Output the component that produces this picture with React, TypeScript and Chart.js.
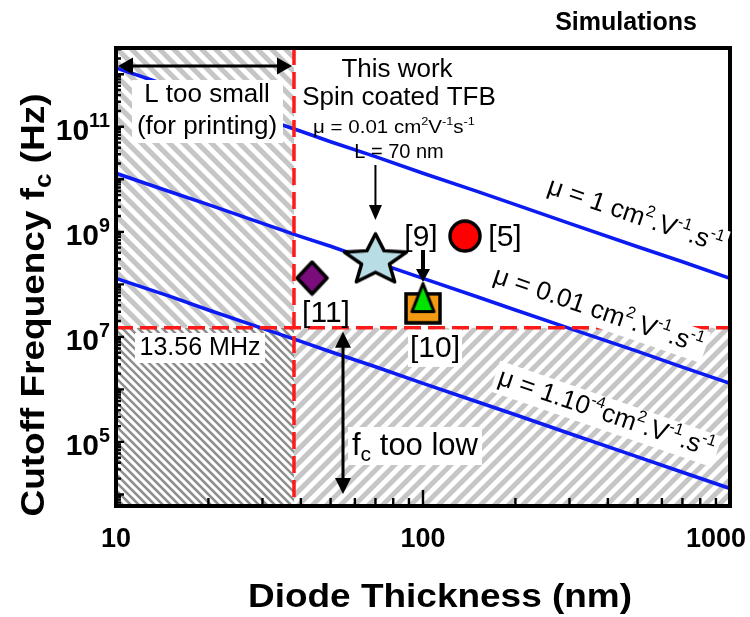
import React, { useEffect, useRef } from "react";
import { Chart, registerables } from "chart.js";
Chart.register(...registerables);

// ---- data ----
const thicknessNm = [10, 15, 20, 30, 40, 50, 70, 100, 150, 200, 300, 500, 700, 1000];
const fcMu1 = [1.32e12, 5.9e11, 3.25e11, 1.45e11, 8.2e10, 5.2e10, 2.7e10, 1.3e10, 5.9e9, 3.3e9, 1.45e9, 5.2e8, 2.7e8, 1.3e8];
const fcMu0p01 = [1.3e10, 5.8e9, 3.3e9, 1.45e9, 8.1e8, 5.3e8, 2.65e8, 1.3e8, 5.8e7, 3.25e7, 1.45e7, 5.3e6, 2.65e6, 1.3e6];
const fcMu1e4 = [1.3e8, 5.9e7, 3.25e7, 1.45e7, 8.2e6, 5.2e6, 2.7e6, 1.3e6, 5.8e5, 3.3e5, 1.45e5, 5.2e4, 2.65e4, 1.3e4];

const refLabels = ["This work", "[5]", "[11]", "[10]", "[9]"];
const refThicknessNm = [70, 137, 43.5, 100, 100];
const refFcHz = [3.2e8, 8.3e8, 1.32e8, 3.5e7, 5.6e7];

const thicknessLimitNm = 38;
const fcLimitHz = 1.5e7;

const xTickValues = [10, 100, 1000];
const yTickExponents = [5, 7, 9, 11];
const xMin = 10;
const xMax = 1000;
const yMin = Math.pow(10, 3.78);
const yMax = Math.pow(10, 12.5);

const FONT = '"Liberation Sans", Arial, Helvetica, sans-serif';

type Seg = { t: string; sup?: boolean; sub?: boolean };

function makeCanvas(w: number, h: number, draw: (g: CanvasRenderingContext2D) => void) {
  const c = document.createElement("canvas");
  c.width = w;
  c.height = h;
  const g = c.getContext("2d")!;
  draw(g);
  return c;
}

function starMark(w: number, h: number, fill: string) {
  return makeCanvas(w, h, (g) => {
    const inset = 2.5;
    const sx = (w - 2 * inset) / (2 * Math.sin((72 * Math.PI) / 180));
    const sy = (h - 2 * inset) / (1 + Math.cos((36 * Math.PI) / 180));
    g.beginPath();
    for (let i = 0; i < 10; i++) {
      const a = -Math.PI / 2 + (i * Math.PI) / 5;
      const r = i % 2 === 0 ? 1 : 0.45;
      const px = w / 2 + Math.cos(a) * r * sx;
      const py = inset + (1 + Math.sin(a) * r) * sy;
      if (i === 0) g.moveTo(px, py);
      else g.lineTo(px, py);
    }
    g.closePath();
    g.fillStyle = fill;
    g.fill();
    g.lineJoin = "round";
    g.lineWidth = 3.5;
    g.strokeStyle = "#000";
    g.stroke();
  });
}

function circleMark(d: number, fill: string) {
  return makeCanvas(d, d, (g) => {
    g.beginPath();
    g.arc(d / 2, d / 2, d / 2 - 2, 0, Math.PI * 2);
    g.fillStyle = fill;
    g.fill();
    g.lineWidth = 3.5;
    g.strokeStyle = "#000";
    g.stroke();
  });
}

function diamondMark(w: number, h: number, fill: string) {
  return makeCanvas(w, h, (g) => {
    const i = 2.5;
    g.beginPath();
    g.moveTo(w / 2, i);
    g.lineTo(w - i, h / 2);
    g.lineTo(w / 2, h - i);
    g.lineTo(i, h / 2);
    g.closePath();
    g.fillStyle = fill;
    g.fill();
    g.lineJoin = "round";
    g.lineWidth = 3.5;
    g.strokeStyle = "#000";
    g.stroke();
  });
}

function rectMark(w: number, h: number, fill: string) {
  return makeCanvas(w, h, (g) => {
    g.fillStyle = fill;
    g.fillRect(2, 2, w - 4, h - 4);
    g.lineWidth = 3.5;
    g.strokeStyle = "#000";
    g.strokeRect(2, 2, w - 4, h - 4);
  });
}

function triangleMark(w: number, h: number, fill: string) {
  return makeCanvas(w, h, (g) => {
    const i = 2.5;
    g.beginPath();
    g.moveTo(w / 2, i);
    g.lineTo(w - i, h - i);
    g.lineTo(i, h - i);
    g.closePath();
    g.fillStyle = fill;
    g.fill();
    g.lineJoin = "round";
    g.lineWidth = 3;
    g.strokeStyle = "#000";
    g.stroke();
  });
}

function drawRich(
  ctx: CanvasRenderingContext2D,
  segs: Seg[],
  x: number,
  y: number,
  o: { size: number; weight?: string; align?: string; sx?: number; rot?: number; box?: boolean; pad?: number; supScale?: number }
) {
  const size = o.size;
  const weight = o.weight || "normal";
  const sx = o.sx || 1;
  const supScale = o.supScale || 0.62;
  ctx.save();
  ctx.translate(x, y);
  if (o.rot) ctx.rotate(o.rot);
  ctx.scale(sx, 1);
  const fontFor = (s: Seg) => `${weight} ${s.sup || s.sub ? size * supScale : size}px ${FONT}`;
  const widths = segs.map((s) => {
    ctx.font = fontFor(s);
    return ctx.measureText(s.t).width;
  });
  const total = widths.reduce((a, b) => a + b, 0);
  const start = o.align === "left" ? 0 : o.align === "right" ? -total : -total / 2;
  if (o.box) {
    const pad = o.pad ?? 4;
    ctx.fillStyle = "#fff";
    ctx.fillRect(start - pad, -size * 0.62, total + 2 * pad, size * 1.24);
  }
  ctx.fillStyle = "#000";
  ctx.textBaseline = "middle";
  ctx.textAlign = "left";
  let cx = start;
  segs.forEach((s, i) => {
    ctx.font = fontFor(s);
    const dy = s.sup ? -size * 0.33 : s.sub ? size * 0.3 : 0;
    ctx.fillText(s.t, cx, dy);
    cx += widths[i];
  });
  ctx.restore();
}

function hatch(ctx: CanvasRenderingContext2D, x0: number, y0: number, x1: number, y1: number, period: number, lw: number, color: string, back: boolean) {
  ctx.save();
  ctx.beginPath();
  ctx.rect(x0, y0, x1 - x0, y1 - y0);
  ctx.clip();
  ctx.strokeStyle = color;
  ctx.lineWidth = lw;
  const h = y1 - y0;
  for (let x = x0 - h - period; x < x1 + h + period; x += period) {
    ctx.beginPath();
    if (back) {
      ctx.moveTo(x, y0);
      ctx.lineTo(x + h, y1);
    } else {
      ctx.moveTo(x, y1);
      ctx.lineTo(x + h, y0);
    }
    ctx.stroke();
  }
  ctx.restore();
}

function arrow(ctx: CanvasRenderingContext2D, x1: number, y1: number, x2: number, y2: number, lw: number, hl: number, hw: number, both: boolean) {
  const ang = Math.atan2(y2 - y1, x2 - x1);
  const head = (x: number, y: number, a: number) => {
    ctx.beginPath();
    ctx.moveTo(x, y);
    ctx.lineTo(x - hl * Math.cos(a) + (hw / 2) * Math.sin(a), y - hl * Math.sin(a) - (hw / 2) * Math.cos(a));
    ctx.lineTo(x - hl * Math.cos(a) - (hw / 2) * Math.sin(a), y - hl * Math.sin(a) + (hw / 2) * Math.cos(a));
    ctx.closePath();
    ctx.fill();
  };
  ctx.save();
  ctx.strokeStyle = "#000";
  ctx.fillStyle = "#000";
  ctx.lineWidth = lw;
  ctx.beginPath();
  const sx = both ? x1 + (hl - 2) * Math.cos(ang) : x1;
  const sy = both ? y1 + (hl - 2) * Math.sin(ang) : y1;
  ctx.moveTo(sx, sy);
  ctx.lineTo(x2 - (hl - 2) * Math.cos(ang), y2 - (hl - 2) * Math.sin(ang));
  ctx.stroke();
  head(x2, y2, ang);
  if (both) head(x1, y1, ang + Math.PI);
  ctx.restore();
}

const overlayPlugin = {
  id: "overlay",
  beforeDatasetsDraw(chart: any) {
    const ctx: CanvasRenderingContext2D = chart.ctx;
    const { left, right, top, bottom } = chart.chartArea;
    const xv = chart.scales.x.getPixelForValue(thicknessLimitNm);
    const yh = chart.scales.y.getPixelForValue(fcLimitHz);
    hatch(ctx, left, top, xv, yh, 14, 5, "#c6c6c6", true);
    hatch(ctx, left, yh, xv, bottom, 8, 2.6, "#8e8e8e", true);
    hatch(ctx, xv, yh, right, bottom, 14, 5, "#c6c6c6", false);
  },
  afterDatasetsDraw(chart: any) {
    const ctx: CanvasRenderingContext2D = chart.ctx;
    const xs = chart.scales.x;
    const ys = chart.scales.y;
    const { left, right, top, bottom } = chart.chartArea;
    const xv = xs.getPixelForValue(thicknessLimitNm);
    const yh = ys.getPixelForValue(fcLimitHz);

    // red dashed limits
    ctx.save();
    ctx.strokeStyle = "#ff1a1a";
    ctx.lineWidth = 3.5;
    ctx.setLineDash([17, 7]);
    ctx.beginPath();
    ctx.moveTo(xv, top);
    ctx.lineTo(xv, bottom);
    ctx.moveTo(left, yh);
    ctx.lineTo(right, yh);
    ctx.stroke();
    ctx.restore();

    // frame
    ctx.save();
    ctx.strokeStyle = "#000";
    ctx.lineWidth = 4;
    ctx.strokeRect(left, top, right - left, bottom - top);
    // ticks
    ctx.lineWidth = 2.4;
    ctx.beginPath();
    for (let d = 1; d <= 3; d++) {
      for (let m = 1; m <= 9; m++) {
        const v = m * Math.pow(10, d);
        if (v > xMax) break;
        const px = xs.getPixelForValue(v);
        const len = m === 1 ? 16 : 8;
        ctx.moveTo(px, bottom);
        ctx.lineTo(px, bottom - len);
      }
    }
    for (let d = 3; d <= 12; d++) {
      for (let m = 1; m <= 9; m++) {
        const v = m * Math.pow(10, d);
        if (v < yMin || v > yMax) continue;
        const py = ys.getPixelForValue(v);
        const len = m === 1 ? 8 : 5;
        ctx.moveTo(left, py);
        ctx.lineTo(left + len, py);
      }
    }
    ctx.stroke();
    ctx.restore();

    // tick labels
    yTickExponents.forEach((e) => {
      const py = ys.getPixelForValue(Math.pow(10, e));
      drawRich(ctx, [{ t: "10" }, { t: String(e), sup: true }], 110, py + 5, { size: 30, weight: "bold", align: "right", supScale: 0.66 });
    });
    xTickValues.forEach((v) => {
      const px = xs.getPixelForValue(v);
      const isLast = v === xMax;
      drawRich(ctx, [{ t: String(v) }], isLast ? 746 : px, 540, { size: 27, weight: "bold", align: isLast ? "right" : "center" });
    });

    // axis titles
    drawRich(ctx, [{ t: "Diode Thickness (nm)" }], 440, 598, { size: 33, weight: "bold", sx: 1.12 });
    drawRich(ctx, [{ t: "Cutoff Frequency f" }, { t: "c", sub: true }, { t: " (Hz)" }], 35, 305, {
      size: 33,
      weight: "bold",
      sx: 1.12,
      rot: -Math.PI / 2,
      supScale: 0.7,
    });
    drawRich(ctx, [{ t: "Simulations" }], 626, 23, { size: 25, weight: "bold" });

    // text boxes
    ctx.save();
    ctx.fillStyle = "#fff";
    ctx.fillRect(132, 80, 151, 63);
    ctx.fillRect(135, 333, 130, 30);
    ctx.fillRect(348, 427, 134, 38);
    ctx.restore();
    drawRich(ctx, [{ t: "L too small" }], 207, 95, { size: 26 });
    drawRich(ctx, [{ t: "(for printing)" }], 207, 127, { size: 26 });
    drawRich(ctx, [{ t: "13.56 MHz" }], 200, 348, { size: 25 });
    drawRich(ctx, [{ t: "f" }, { t: "c", sub: true }, { t: " too low" }], 352, 446, { size: 31, align: "left", supScale: 0.68 });

    drawRich(ctx, [{ t: "This work" }], 397, 70, { size: 26 });
    drawRich(ctx, [{ t: "Spin coated TFB" }], 399, 98, { size: 26 });
    drawRich(ctx, [{ t: "μ = 0.01 cm" }, { t: "2", sup: true }, { t: "V" }, { t: "-1", sup: true }, { t: "s" }, { t: "-1", sup: true }], 394, 128, { size: 19, sx: 1.08 });
    drawRich(ctx, [{ t: "L = 70 nm" }], 399, 152, { size: 20 });

    // reference labels (anchored to markers)
    const mk = (i: number) => ({ x: xs.getPixelForValue(refThicknessNm[i]), y: ys.getPixelForValue(refFcHz[i]) });
    const p5 = mk(1), p11 = mk(2), p10 = mk(3), p9 = mk(4), pw = mk(0);
    drawRich(ctx, [{ t: refLabels[1] }], p5.x + 40, p5.y + 2, { size: 30 });
    drawRich(ctx, [{ t: refLabels[2] }], p11.x + 14, p11.y + 36, { size: 30 });
    drawRich(ctx, [{ t: refLabels[3] }], p10.x + 12, p10.y + 40, { size: 30, box: true, pad: 2 });
    drawRich(ctx, [{ t: refLabels[4] }], p9.x - 2, p9.y - 60, { size: 30 });

    // mobility labels along lines
    const a = Math.atan2(ys.getPixelForValue(fcMu1[13]) - ys.getPixelForValue(fcMu1[7]), xs.getPixelForValue(1000) - xs.getPixelForValue(100));
    const tail: Seg[] = [{ t: "cm" }, { t: "2", sup: true }, { t: ".V" }, { t: "-1", sup: true }, { t: ".s" }, { t: "-1", sup: true }];
    drawRich(ctx, [{ t: "μ = 1 " }, ...tail], 635, 216, { size: 26, rot: a, box: true, pad: 4 });
    drawRich(ctx, [{ t: "μ = 0.01 " }, ...tail], 598, 311, { size: 26, rot: a, box: true, pad: 4 });
    drawRich(ctx, [{ t: "μ = 1.10" }, { t: "-4", sup: true }, ...tail], 606, 414, { size: 26, rot: a, box: true, pad: 4 });

    // arrows
    arrow(ctx, left + 2, 66, xv - 2, 66, 3, 15, 17, true);
    arrow(ctx, pw.x, 165, pw.x, 220, 2, 15, 13, false);
    arrow(ctx, p9.x, 250, p9.x, 282, 4, 13, 14, false);
    arrow(ctx, 343, yh + 4, 343, bottom - 12, 3, 16, 16, true);
  },
};

export default function App() {
  const ref = useRef<HTMLCanvasElement>(null);
  useEffect(() => {
    if (!ref.current) return;
    const markers = [
      starMark(67, 53, "#b8dde4"),
      circleMark(34, "#ff0000"),
      diamondMark(35, 37, "#7b0c7b"),
      rectMark(38, 33, "#f39a12"),
      triangleMark(27, 33, "#00e400"),
    ];
    const lineDs = (label: string, ys: number[]) => ({
      type: "line" as const,
      label,
      data: thicknessNm.map((x, i) => ({ x, y: ys[i] })),
      borderColor: "#0b1bf2",
      borderWidth: 3.6,
      pointRadius: 0,
      tension: 0,
      fill: false,
      order: 2,
    });
    const chart = new Chart(ref.current, {
      type: "line",
      data: {
        datasets: [
          lineDs("μ = 1", fcMu1),
          lineDs("μ = 0.01", fcMu0p01),
          lineDs("μ = 1e-4", fcMu1e4),
          {
            type: "line" as const,
            label: "References",
            data: refThicknessNm.map((x, i) => ({ x, y: refFcHz[i] })),
            showLine: false,
            pointStyle: markers as any,
            pointRadius: 16,
            order: 0,
          } as any,
        ],
      },
      options: {
        animation: false,
        responsive: false,
        events: [],
        layout: { padding: { left: 116, top: 48, right: 20, bottom: 111 } },
        plugins: { legend: { display: false }, tooltip: { enabled: false }, title: { display: false } },
        scales: {
          x: { type: "logarithmic", min: xMin, max: xMax, display: false },
          y: { type: "logarithmic", min: yMin, max: yMax, display: false },
        },
      },
      plugins: [overlayPlugin],
    });
    return () => chart.destroy();
  }, []);
  return (
    <div style={{ position: "absolute", left: 0, top: 0, width: 750, height: 617, background: "#fff" }}>
      <canvas ref={ref} width={750} height={617} style={{ width: 750, height: 617 }} />
    </div>
  );
}
